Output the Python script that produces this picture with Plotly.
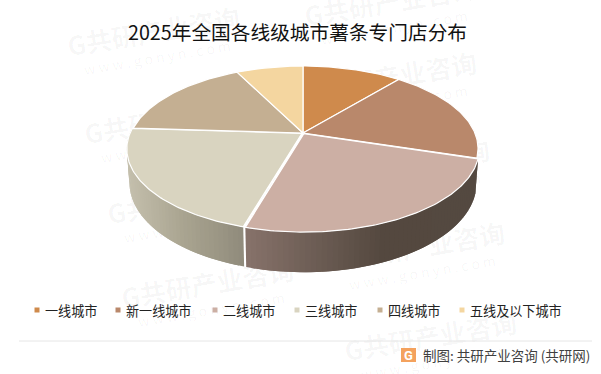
import math
import plotly.graph_objects as go

title = "2025年全国各线级城市薯条专门店分布"
categories = ["一线城市", "新一线城市", "二线城市", "三线城市", "四线城市", "五线及以下城市"]
shares = [11.0, 18.8, 24.7, 21.5, 16.6, 7.4]
colors = ["#cf8a4c", "#b9886b", "#ccafa4", "#d9d4c0", "#c4af92", "#f4d6a0"]
exploded = [0, 0, 0.010, 0.007, 0, 0]
# side-wall gradient: stops as (screen x, colour)
side_stops = {
    2: [(247, (0x87, 0x73, 0x6b)), (385, (0x54, 0x48, 0x3f)), (480, (0x54, 0x49, 0x40))],
    3: [(128, (0xc4, 0xbf, 0xad)), (180, (0xaa, 0xa5, 0x91)), (246, (0x8e, 0x89, 0x7a))],
}
legend_x = [37, 118, 215, 297, 380, 462]
footer = "制图: 共研产业咨询 (共研网)"
watermark_main = "G共研产业咨询"
watermark_sub = "w w w . g o n y n . c o m"
watermark_mid = [(153, 30), (615, 35), (390, 75), (170, 118), (-43, 242), (193, 198), (-57, 158),
                 (207, 282), (-27, 332), (418, 245), (630, 122), (643, 203), (657, 288), (430, 335),
                 (209, 377), (403, 162), (390, 0), (-70, 77)]

FONT = "Noto Sans CJK SC"
CX, CY = 303.0, 133.0
K = 0.188
A, B = 171.9, 79.6
D = 32.5
S = 0.985


def top(u, v):
    w = 1 + K * v
    return CX + A * u / w, CY - B * v / w


def bottom(u, v):
    w = 1 + K * v
    return CX + S * A * u / w, CY - B * v / w + D / w


def lerp_colour(stops, x):
    if x <= stops[0][0]:
        c = stops[0][1]
    elif x >= stops[-1][0]:
        c = stops[-1][1]
    else:
        for (x0, c0), (x1, c1) in zip(stops, stops[1:]):
            if x0 <= x <= x1:
                t = (x - x0) / (x1 - x0)
                c = tuple(a + (b - a) * t for a, b in zip(c0, c1))
                break
    return "rgb(%d,%d,%d)" % tuple(round(v) for v in c)


fig = go.Figure()
total = sum(shares)
start = 0.0
wedges = []
for i, s in enumerate(shares):
    end = start + 360.0 * s / total
    mid = math.radians((start + end) / 2)
    ox, oy = exploded[i] * math.sin(mid), exploded[i] * math.cos(mid)
    wedges.append((start, end, ox, oy))
    start = end

# side walls: each band overlaps the next one so that no seams show
for i, stops in side_stops.items():
    a0, a1, ox, oy = wedges[i]
    n = max(int((a1 - a0) / 1.5), 2)
    order = range(n) if i == 3 else range(n - 1, -1, -1)
    for j in order:
        if i == 3:
            t0 = a0 + (a1 - a0) * j / n
            t1 = a0 + (a1 - a0) * min(j + 2, n) / n
        else:
            t0 = a0 + (a1 - a0) * max(j - 1, 0) / n
            t1 = a0 + (a1 - a0) * (j + 1) / n
        samples = [math.radians(t0 + (t1 - t0) * q / 4) for q in range(5)]
        pts = [top(math.sin(t) + ox, math.cos(t) + oy) for t in samples]
        pts += [bottom(math.sin(t) + ox, math.cos(t) + oy) for t in reversed(samples)]
        col = lerp_colour(stops, sum(p[0] for p in pts) / len(pts))
        fig.add_trace(go.Scatter(x=[p[0] for p in pts] + [pts[0][0]], y=[p[1] for p in pts] + [pts[0][1]],
                                 mode="lines", fill="toself", fillcolor=col,
                                 line=dict(width=0), showlegend=False, hoverinfo="skip"))

# top faces
for i, (a0, a1, ox, oy) in enumerate(wedges):
    n = max(int(a1 - a0), 2)
    pts = [top(ox, oy)]
    for j in range(n + 1):
        t = math.radians(a0 + (a1 - a0) * j / n)
        pts.append(top(math.sin(t) + ox, math.cos(t) + oy))
    pts.append(pts[0])
    fig.add_trace(go.Scatter(x=[p[0] for p in pts], y=[p[1] for p in pts], mode="lines", fill="toself",
                             fillcolor=colors[i], line=dict(color="white", width=1.2),
                             name=categories[i], showlegend=False, hoverinfo="name"))

# legend markers
for i, name in enumerate(categories):
    fig.add_trace(go.Scatter(x=[legend_x[i]], y=[310], mode="markers",
                             marker=dict(symbol="square", size=5, color=colors[i]),
                             name=name, showlegend=False, hoverinfo="name", cliponaxis=False))

annotations = []
for mx, my in watermark_mid:
    annotations.append(dict(x=mx, y=my, xref="x", yref="y", text=watermark_main, showarrow=False, textangle=-9.5,
                            font=dict(family=FONT, size=26, color="rgba(0,0,0,0.035)", weight="bold")))
    annotations.append(dict(x=mx + 4, y=my + 27, xref="x", yref="y", text=watermark_sub, showarrow=False, textangle=-9.5,
                            font=dict(family=FONT, size=14, color="rgba(0,0,0,0.04)")))
for i, name in enumerate(categories):
    annotations.append(dict(x=legend_x[i] + 6, y=310.5, xref="x", yref="y", xanchor="left", text=name, showarrow=False,
                            font=dict(family=FONT, size=13.1, color="#222222")))
annotations.append(dict(x=592, y=355, xref="x", yref="y", xanchor="right", text=footer, showarrow=False,
                        font=dict(family=FONT, size=13.5, color="#404040")))
annotations.append(dict(x=408.5, y=355, xref="x", yref="y", text="G", showarrow=False,
                        font=dict(family="Roboto", size=13, color="white", weight="bold")))

fig.update_layout(
    width=601, height=374, autosize=False,
    margin=dict(l=0, r=0, t=0, b=0),
    paper_bgcolor="white", plot_bgcolor="white",
    showlegend=False,
    title=dict(text=title, x=297.5 / 601, xref="paper", xanchor="center", y=1 - 33 / 374, yref="paper",
               yanchor="middle", font=dict(family=FONT, size=19.7, color="#111111")),
    xaxis=dict(range=[0, 601], visible=False, fixedrange=True),
    yaxis=dict(range=[374, 0], visible=False, fixedrange=True),
    annotations=annotations,
    shapes=[
        dict(type="line", xref="x", yref="y", x0=19, x1=592, y0=341, y1=341, line=dict(color="#e6e6e6", width=1)),
        dict(type="rect", xref="x", yref="y", x0=401, x1=416, y0=348, y1=362, fillcolor="#f4a25e", line=dict(width=0), layer="below"),
    ],
)
# the watermark sits behind the pie, so its annotations are moved under the chart layer
post = """
document.body.style.margin='0';
var cl=document.querySelector('.main-svg .cartesianlayer');
document.querySelectorAll('.annotation').forEach(function(a){
  var t=a.textContent;
  if(t.indexOf('G共')===0||t.indexOf('w w w')===0){cl.parentNode.insertBefore(a,cl);}
});
"""
fig.write_html("out.html", config={"displayModeBar": False}, post_script=post)
